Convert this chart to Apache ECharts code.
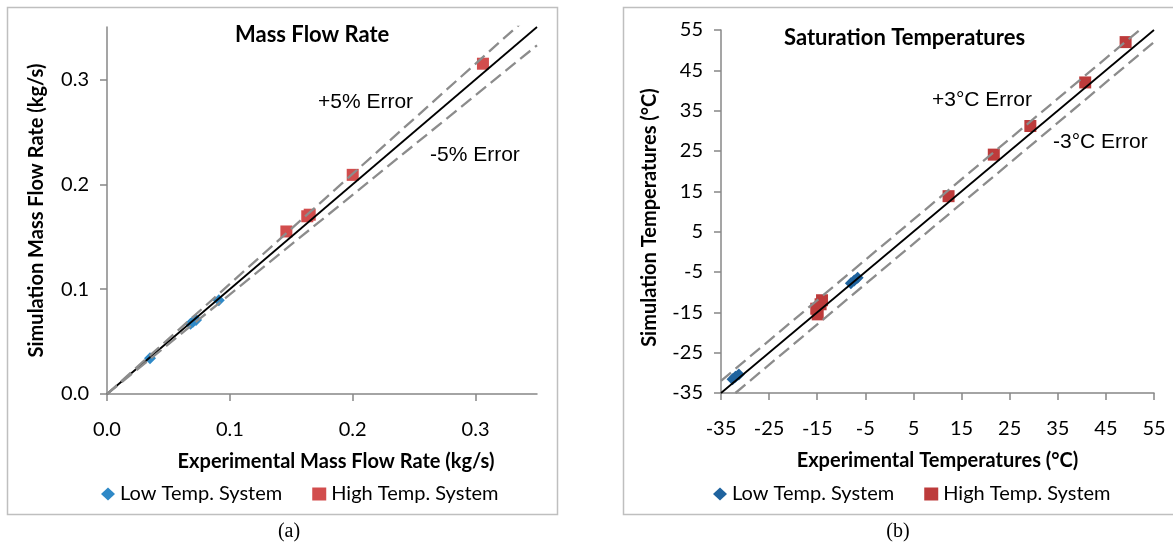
<!DOCTYPE html>
<html>
<head>
<meta charset="utf-8">
<script src="https://cdn.jsdelivr.net/npm/echarts@6/dist/echarts.min.js"></script>
<style>
  html, body { margin: 0; padding: 0; background: #fff; }
  #chart { width: 1173px; height: 548px; }
</style>
</head>
<body>
<div id="chart"></div>
<script>
// (a) mass flow rate, kg/s : [experimental, simulation]
var flowLow = [[0.035, 0.034], [0.068, 0.067], [0.070, 0.069], [0.0725, 0.0705], [0.091, 0.0895]];
var flowHigh = [[0.146, 0.155], [0.163, 0.1695], [0.165, 0.171], [0.200, 0.209], [0.306, 0.315]];
var flowTicks = [0, 0.1, 0.2, 0.3];
var flowIdeal = [[0, 0], [0.35, 0.35]];
var flowPlus5 = [[0, 0], [0.35, 0.3675]];
var flowMinus5 = [[0, 0], [0.35, 0.3325]];

// (b) saturation temperatures, °C : [experimental, simulation]
var tempLow = [[-32.6, -31.6], [-32, -31], [-31.3, -30.4], [-8, -7.8], [-7.3, -7.1], [-6.6, -6.4]];
var tempHigh = [[-14, -12], [-14.3, -13], [-15.2, -14.1], [-14.9, -15.5], [12.3, 13.8],
  [21.7, 24.1], [29.3, 31.2], [40.7, 42], [49.1, 52]];
var tempTicks = [-35, -25, -15, -5, 5, 15, 25, 35, 45, 55];
var tempIdeal = [[-35, -35], [55, 55]];
var tempPlus3 = [[-35, -32], [52, 55]];
var tempMinus3 = [[-32, -35], [55, 52]];

var chart = echarts.init(document.getElementById('chart'));

var axisGray = '#878787';
var labelFont = 'Lato, "Noto Sans", sans-serif';

function valueAxis(idx, min, max, ticks, digits, name, isY) {
  var ax = {
    type: 'value',
    gridIndex: idx,
    min: min,
    max: max,
    name: name,
    nameLocation: 'middle',
    nameTextStyle: { fontFamily: labelFont, fontWeight: 'bold', fontSize: 20, color: '#000' },
    axisLine: { show: true, onZero: false, lineStyle: { color: axisGray, width: 1.5 } },
    axisTick: { show: true, length: 7, customValues: ticks, lineStyle: { color: axisGray, width: 1.5 } },
    axisLabel: {
      customValues: ticks,
      fontFamily: labelFont,
      fontSize: 20,
      color: '#000',
      formatter: function (v) { return v.toFixed(digits); }
    },
    splitLine: { show: false }
  };
  if (isY) {
    ax.nameGap = 60;
    ax.axisLabel.margin = 18;
  } else {
    ax.nameGap = 58;
    ax.axisLabel.margin = 26;
  }
  return ax;
}

var xA = valueAxis(0, 0, 0.35, flowTicks, 1, 'Experimental Mass Flow Rate (kg/s)', false);
xA.nameTextStyle.padding = [0, 0, 0, 28];
var yA = valueAxis(0, 0, 0.35, flowTicks, 1, 'Simulation Mass Flow Rate (kg/s)', true);
var xB = valueAxis(1, -35, 55, tempTicks, 0, 'Experimental Temperatures (°C)', false);
var yB = valueAxis(1, -35, 55, tempTicks, 0, 'Simulation Temperatures (°C)', true);
yB.nameGap = 61;
yB.nameTextStyle.padding = [0, 12, 0, 0];

function refLine(name, data, xi, dashed) {
  return {
    name: name,
    type: 'line',
    xAxisIndex: xi,
    yAxisIndex: xi,
    data: data,
    showSymbol: false,
    silent: true,
    z: 3,
    lineStyle: dashed
      ? { color: '#8c8c8c', width: 2.3, type: [13, 6] }
      : { color: '#000', width: 1.8 }
  };
}

function scatter(name, data, xi, symbol, color) {
  return {
    name: name,
    type: 'scatter',
    xAxisIndex: xi,
    yAxisIndex: xi,
    data: data,
    symbol: symbol,
    symbolSize: 12,
    z: 2,
    itemStyle: { color: color, opacity: 1 }
  };
}

function legendFor(left, prefix) {
  return {
    left: left,
    top: 479,
    itemWidth: 14,
    itemHeight: 13,
    itemGap: 30,
    textStyle: { fontFamily: labelFont, fontSize: 20, color: '#000' },
    formatter: function (n) { return n.replace('b:', ''); },
    data: [
      { name: prefix + 'Low Temp. System', icon: 'diamond' },
      { name: prefix + 'High Temp. System', icon: 'rect' }
    ]
  };
}

function txt(x, y, s, font) {
  return {
    type: 'text', x: x, y: y, silent: true,
    style: { text: s, font: font, fill: '#000', textAlign: 'left', textVerticalAlign: 'middle' }
  };
}

var option = {
  animation: false,
  backgroundColor: '#fff',
  grid: [
    { left: 107, top: 27, width: 430, height: 367 },
    { left: 721, top: 30, width: 433, height: 363 }
  ],
  xAxis: [xA, xB],
  yAxis: [yA, yB],
  legend: [legendFor(96, ''), legendFor(708, 'b:')],
  series: [
    scatter('Low Temp. System', flowLow, 0, 'diamond', '#2f89c7'),
    scatter('High Temp. System', flowHigh, 0, 'rect', '#d24d4d'),
    refLine('ideal a', flowIdeal, 0, false),
    refLine('+5%', flowPlus5, 0, true),
    refLine('-5%', flowMinus5, 0, true),
    scatter('b:Low Temp. System', tempLow, 1, 'diamond', '#1f639e'),
    scatter('b:High Temp. System', tempHigh, 1, 'rect', '#bd3b3b'),
    refLine('ideal b', tempIdeal, 1, false),
    refLine('+3', tempPlus3, 1, true),
    refLine('-3', tempMinus3, 1, true)
  ],
  graphic: [
    { type: 'rect', silent: true, shape: { x: 7.5, y: 7.5, width: 550, height: 507 },
      style: { fill: 'none', stroke: '#bfbfbf', lineWidth: 1.5 } },
    { type: 'rect', silent: true, shape: { x: 623.5, y: 7.5, width: 560, height: 507 },
      style: { fill: 'none', stroke: '#bfbfbf', lineWidth: 1.5 } },
    txt(235, 35, 'Mass Flow Rate', 'bold 22px Lato, sans-serif'),
    txt(784, 38, 'Saturation Temperatures', 'bold 22px Lato, sans-serif'),
    txt(318, 102, '+5% Error', '21px "Liberation Sans", Arial, sans-serif'),
    txt(430, 155, '-5% Error', '21px "Liberation Sans", Arial, sans-serif'),
    txt(932, 100, '+3°C Error', '21px "Liberation Sans", Arial, sans-serif'),
    txt(1053, 142, '-3°C Error', '21px "Liberation Sans", Arial, sans-serif'),
    { type: 'text', x: 289, y: 532, silent: true,
      style: { text: '(a)', font: '20px "Liberation Serif", serif', fill: '#000', textAlign: 'center', textVerticalAlign: 'middle' } },
    { type: 'text', x: 898, y: 532, silent: true,
      style: { text: '(b)', font: '20px "Liberation Serif", serif', fill: '#000', textAlign: 'center', textVerticalAlign: 'middle' } }
  ]
};

chart.setOption(option);
</script>
</body>
</html>
